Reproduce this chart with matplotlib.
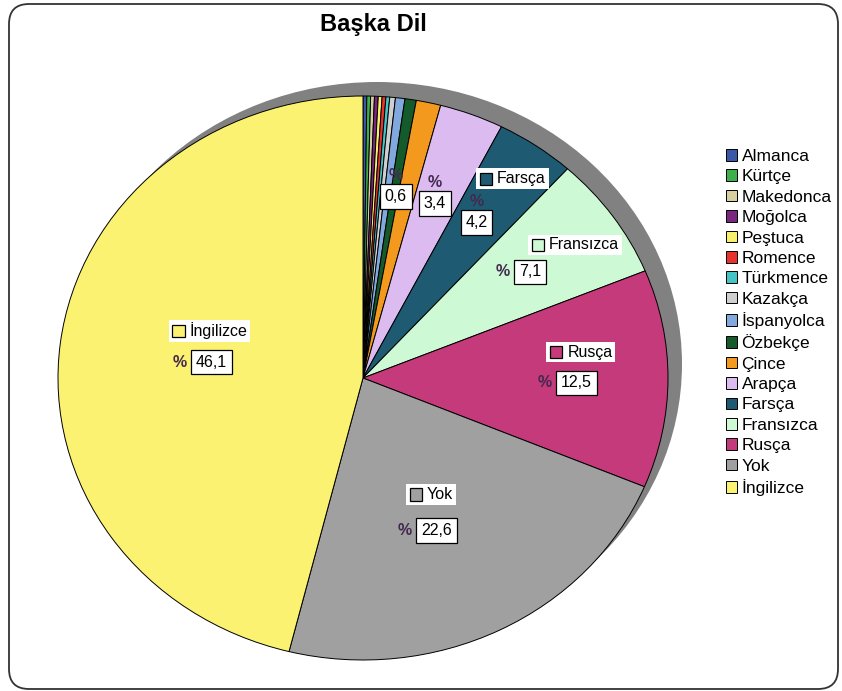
import numpy as np
import matplotlib.pyplot as plt
from matplotlib.patches import Ellipse, FancyBboxPatch, Rectangle
from matplotlib.offsetbox import (AnnotationBbox, HPacker, VPacker, TextArea,
                                  DrawingArea, PaddedBox)

plt.rcParams['font.family'] = ['Liberation Sans', 'DejaVu Sans']

# --- data (percent of respondents), order = clockwise from 12 o'clock ---
languages = ['Almanca', 'Kürtçe', 'Makedonca', 'Moğolca', 'Peştuca', 'Romence',
             'Türkmence', 'Kazakça', 'İspanyolca', 'Özbekçe', 'Çince', 'Arapça',
             'Farsça', 'Fransızca', 'Rusça', 'Yok', 'İngilizce']
percent = [0.2, 0.2, 0.2, 0.2, 0.2, 0.2, 0.2, 0.3, 0.5, 0.6, 1.3, 3.4,
           4.2, 7.1, 12.5, 22.6, 46.1]
colors = ['#3b58a8', '#3cb04a', '#d6d0a0', '#7b2580', '#f7f06a', '#e8322e',
          '#44c4c4', '#cfcfcf', '#82a9de', '#155a2a', '#f39a1e', '#dcbcf0',
          '#1e5b72', '#cdf9d4', '#c43a7a', '#a0a0a0', '#fbf271']

# label placement: (angle nudge in deg, radius fraction); stacked = % above box
label_layout = {
    'İngilizce': dict(name=(11.4, 0.53), value=(-0.9, 0.53), stack=False),
    'Yok':       dict(name=(-1.7, 0.47), value=(5.3, 0.58), stack=False),
    'Rusça':     dict(name=(-7.5, 0.72), value=(1.3, 0.67), stack=False),
    'Fransızca': dict(name=(0.9, 0.84), value=(-0.9, 0.64), stack=False),
    'Farsça':    dict(name=(0.2, 0.86), value=(-1.9, 0.69), stack=True),
    'Arapça':    dict(name=None, value=(-0.9, 0.69), stack=True),
    'Özbekçe':   dict(name=None, value=(0.1, 0.68), stack=True),
}

W, H = 842, 691
fig = plt.figure(figsize=(W / 100, H / 100), dpi=100)

# background axes in pixel coordinates for the rounded frame
bg = fig.add_axes([0, 0, 1, 1])
bg.set_xlim(0, W)
bg.set_ylim(H, 0)
bg.axis('off')
bg.add_patch(FancyBboxPatch((9, 4), 829, 685,
                            boxstyle='round,pad=0,rounding_size=20',
                            fc='white', ec='#333333', lw=1.3))

fig.text(373 / W, 1 - 24 / H, 'Başka Dil', ha='center', va='center',
         fontsize=17, fontweight='bold')

# pie axes: an ellipse (the original chart is stretched horizontally)
cx, cy, rx, ry = 363, 378, 305, 282
ext = 1.2
ax = fig.add_axes([(cx - rx * ext) / W, 1 - (cy + ry * ext) / H,
                   2 * rx * ext / W, 2 * ry * ext / H])
ax.patch.set_alpha(0)

# 3d-ish shadow behind the pie
ax.add_patch(Ellipse((14 / rx, 14 / ry), 2, 2, fc='#818181', ec='none', zorder=0))

wedges, _ = ax.pie(percent, colors=colors, startangle=90, counterclock=False,
                   radius=1, wedgeprops=dict(edgecolor='black', linewidth=0.7))
for w in wedges:
    w.set_zorder(1)
ax.set_aspect('auto')
ax.set_xlim(-ext, ext)
ax.set_ylim(-ext, ext)
ax.axis('off')

cum = np.cumsum(percent)
mid = (cum - np.array(percent) / 2) * 3.6   # degrees clockwise from top


def pos(theta, r):
    t = np.deg2rad(theta)
    return r * np.sin(t), r * np.cos(t)


fs = 11.5
for i, lang in enumerate(languages):
    if lang not in label_layout:
        continue
    lay = label_layout[lang]
    if lay['name'] is not None:
        da = DrawingArea(10, 10, 0, 0)
        da.add_artist(Rectangle((0.5, 0.5), 9, 9, fc=colors[i], ec='black', lw=0.9))
        box = HPacker(children=[da, TextArea(lang, textprops=dict(fontsize=fs))],
                      sep=3, align='center', pad=0)
        dth, r = lay['name']
        ab = AnnotationBbox(box, pos(mid[i] + dth, r), frameon=True, pad=0.2,
                            bboxprops=dict(fc='white', ec='none'),
                            annotation_clip=False, zorder=5)
        ax.add_artist(ab)

    pct = TextArea('%', textprops=dict(fontsize=fs, fontweight='bold', color='#43294f'))
    val = PaddedBox(TextArea(f'{percent[i]:.1f}'.replace('.', ','),
                             textprops=dict(fontsize=fs)),
                    pad=3.5, draw_frame=True,
                    patch_attrs=dict(fc='white', ec='black', lw=0.9))
    if lay['stack']:
        vbox = VPacker(children=[pct, val], sep=1, align='center', pad=0)
    else:
        vbox = HPacker(children=[pct, val], sep=3, align='center', pad=0)
    dth, r = lay['value']
    ab = AnnotationBbox(vbox, pos(mid[i] + dth, r), frameon=False,
                        annotation_clip=False, zorder=5)
    ax.add_artist(ab)

fig.legend(wedges, languages, loc='upper left',
           bbox_to_anchor=(726 / W, 1 - 149 / H), frameon=False,
           fontsize=12.5, handlelength=0.65, handleheight=0.65,
           handletextpad=0.25, labelspacing=0.31, borderpad=0, borderaxespad=0)

fig.savefig('out.png', dpi=100)
